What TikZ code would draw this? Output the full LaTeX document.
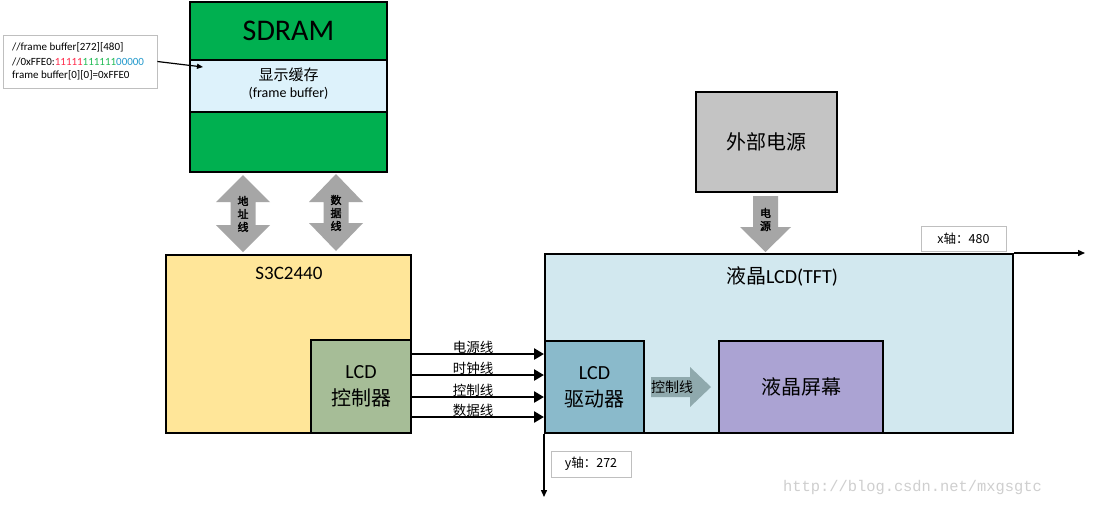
\documentclass[tikz,border=0pt]{standalone}
\usepackage{fontspec}
\setmainfont{Carlito}
\newfontfamily\cjk{Noto Sans CJK SC}
\newfontfamily\cjkb{Noto Sans CJK SC}[FakeBold=2]
\newfontfamily\wmfont{Liberation Mono}
\usetikzlibrary{arrows.meta}
\definecolor{sdgreen}{HTML}{00B050}
\definecolor{fbblue}{HTML}{DDF2FB}
\definecolor{s3cyellow}{HTML}{FFE699}
\definecolor{ctrlgreen}{HTML}{A6BD97}
\definecolor{tftblue}{HTML}{D2E8EF}
\definecolor{drvblue}{HTML}{8ABACB}
\definecolor{scrpurple}{HTML}{ABA3D3}
\definecolor{pwrgray}{HTML}{C4C4C4}
\definecolor{arrowgray}{HTML}{A6A6A6}
\definecolor{ctlarrow}{HTML}{8FA9AD}
\definecolor{boxgray}{HTML}{BFBFBF}
\definecolor{bitred}{HTML}{FF2A4A}
\definecolor{bitgreen}{HTML}{22BB55}
\definecolor{bitblue}{HTML}{2299CC}
\definecolor{wmgray}{HTML}{CFCFCF}
\begin{document}
\begin{tikzpicture}[x=1pt,y=-1pt,
  blk/.style={draw=black, line width=2pt, rectangle, inner sep=0pt, align=center},
  cbox/.style={draw=boxgray, line width=0.8pt, rectangle, inner sep=0pt},
  small/.style={font=\fontsize{11}{12}\selectfont, inner sep=3.33pt},
  big/.style={font=\fontsize{20}{27}\selectfont},
  lbl/.style={font=\cjk\fontsize{13.5}{15}\selectfont, inner sep=0pt},
  vlbl/.style={font=\cjkb\fontsize{11}{13}\selectfont, align=center, inner sep=0pt},
  bus/.style={line width=2.8pt, -{Triangle[length=10pt,width=11pt]}},
  axisline/.style={line width=1.4pt, -{Triangle[length=7pt,width=6pt]}},
  thinarrow/.style={line width=1.2pt, -{Triangle[length=6pt,width=5pt]}},
  blockarrow/.style={fill=arrowgray, draw=none}
]
\fill[white] (0,0) rectangle (1095,507);
\useasboundingbox (0,0) rectangle (1095,507);

% SDRAM
\node[blk, fill=sdgreen, minimum width=197pt, minimum height=58pt, font=\fontsize{30}{34}\selectfont] (sdtop) at (288.5,31) {SDRAM};
\node[blk, fill=fbblue, minimum width=197pt, minimum height=52pt] (fb) at (288.5,86) {};
\node[blk, fill=sdgreen, minimum width=197pt, minimum height=60pt] (sdbot) at (288.5,142) {};
\node[font=\cjk\fontsize{15}{17}\selectfont, inner sep=0pt] (fbt1) at (288.5,75) {显示缓存};
\node[font=\fontsize{14}{16}\selectfont, inner sep=0pt] (fbt2) at (288.5,93) {(frame buffer)};

% comment box
\node[cbox, minimum width=154pt, minimum height=53pt] (cmt) at (80,61.5) {};
\node[small, anchor=west] (c1) at (8.5,47) {//frame buffer[272][480]};
\node[small, anchor=west] (c2) at (8.5,62) {//0xFFE0:\textcolor{bitred}{11111}\textcolor{bitgreen}{111111}\textcolor{bitblue}{00000}};
\node[small, anchor=west] (c3) at (8.5,75) {frame buffer[0][0]=0xFFE0};
\coordinate (fbin) at (203,67);
\draw[thinarrow] (cmt.east) -- (fbin);

% double block arrows
\foreach \cx/\ta/\tb/\ba/\bb in {243/175/202/225/252, 336/174/202/223/251}{
  \fill[blockarrow] (\cx,\ta) -- (\cx+27,\tb) -- (\cx+12.5,\tb) -- (\cx+12.5,\ba) -- (\cx+27,\ba) -- (\cx,\bb)
     -- (\cx-27,\ba) -- (\cx-12.5,\ba) -- (\cx-12.5,\tb) -- (\cx-27,\tb) -- cycle;
}
\node[vlbl] (addr) at (243,214) {地\\址\\线};
\node[vlbl] (data) at (336,213) {数\\据\\线};

% S3C2440
\node[blk, fill=s3cyellow, minimum width=245pt, minimum height=178pt] (s3c) at (288.5,344) {};
\node[font=\fontsize{19}{22}\selectfont, inner sep=0pt] (s3ct) at (289,273) {S3C2440};
\node[blk, fill=ctrlgreen, minimum width=100pt, minimum height=93pt, big] (ctrl) at (361,386.5) {LCD\\{\cjk 控制器}};

% LCD TFT
\node[blk, fill=tftblue, minimum width=468pt, minimum height=179pt] (tft) at (779,343.5) {};
\node[big, inner sep=0pt] (tftt) at (782,276) {{\cjk 液晶}LCD(TFT)};
\node[blk, fill=drvblue, minimum width=99pt, minimum height=92pt, big] (drv) at (594.5,387) {LCD\\{\cjk 驱动器}};
\node[blk, fill=scrpurple, minimum width=164pt, minimum height=92pt, font=\cjk\fontsize{20}{24}\selectfont] (scr) at (801,387) {液晶屏幕};

% control arrow inside LCD
\fill[ctlarrow] (651,377) -- (690,377) -- (690,367) -- (711,387) -- (690,407) -- (690,397) -- (651,397) -- cycle;
\node[font=\cjk\fontsize{14}{16}\selectfont, inner sep=0pt] (ctlt) at (672,387) {控制线};

% power supply
\node[blk, fill=pwrgray, minimum width=141pt, minimum height=100pt, font=\cjk\fontsize{20}{24}\selectfont] (pwr) at (766.5,142) {外部电源};
\fill[blockarrow] (753,196) -- (778,196) -- (778,227) -- (791,227) -- (765.5,252) -- (740,227) -- (753,227) -- cycle;
\node[vlbl] (pwrt) at (765.5,219.5) {电\\源};

% bus arrows
\foreach \yy/\lab in {354/电源线,375/时钟线,397/控制线,417/数据线}{
  \draw[bus] (ctrl.east |- 0,\yy) -- (drv.west |- 0,\yy);
  \node[lbl] at (473,\yy-7) {\lab};
}

% axes
\coordinate (xend) at (1085,255);
\coordinate (yend) at (545,497);
\draw[axisline] (tft.north east) -- (tft.north east -| xend);
\draw[axisline] (tft.south west) -- (tft.south west |- yend);
\node[cbox, minimum width=85pt, minimum height=25pt, font=\cjk\fontsize{12.5}{14}\selectfont] (xlab) at (963.5,238.5) {x轴：480};
\node[cbox, minimum width=80pt, minimum height=26pt, font=\cjk\fontsize{12.5}{14}\selectfont] (ylab) at (591,464) {y轴：272};

% watermark
\node[font=\wmfont\fontsize{15.4}{17}\selectfont, text=wmgray, inner sep=0pt] (wm) at (912.5,488) {http://blog.csdn.net/mxgsgtc};
\end{tikzpicture}
\end{document}
